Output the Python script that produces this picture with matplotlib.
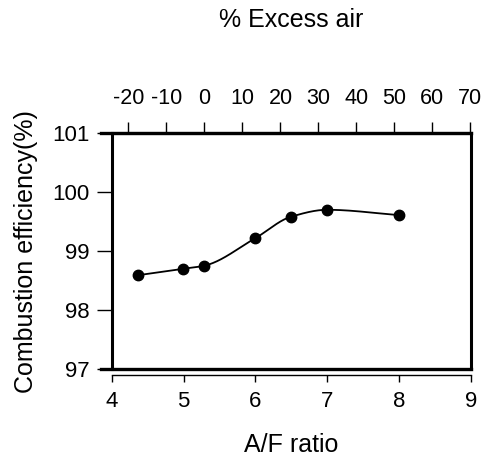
import numpy as np
import matplotlib
matplotlib.use("Agg")
import matplotlib.pyplot as plt

plt.rcParams['font.family'] = ['Liberation Sans', 'DejaVu Sans']
plt.rcParams['axes.unicode_minus'] = False

af_ratio = [4.36, 4.99, 5.28, 6.0, 6.49, 7.0, 8.0]
efficiency = [98.59, 98.70, 98.75, 99.22, 99.58, 99.70, 99.61]
x_ticks = [4, 5, 6, 7, 8, 9]
y_ticks = [97, 98, 99, 100, 101]
excess_ticks = [-20, -10, 0, 10, 20, 30, 40, 50, 60, 70]
AF_STOICH = 5.29


def pchip(x, y, n=400):
    x = np.asarray(x, float); y = np.asarray(y, float)
    h = np.diff(x); delta = np.diff(y) / h
    m = np.zeros_like(y)
    for k in range(1, len(x) - 1):
        if delta[k - 1] * delta[k] > 0:
            w1 = 2 * h[k] + h[k - 1]; w2 = h[k] + 2 * h[k - 1]
            m[k] = (w1 + w2) / (w1 / delta[k - 1] + w2 / delta[k])
    m[0] = delta[0]; m[-1] = delta[-1]
    xs = np.linspace(x[0], x[-1], n)
    idx = np.clip(np.searchsorted(x, xs) - 1, 0, len(x) - 2)
    t = (xs - x[idx]) / h[idx]
    h00 = 2 * t**3 - 3 * t**2 + 1; h10 = t**3 - 2 * t**2 + t
    h01 = -2 * t**3 + 3 * t**2; h11 = t**3 - t**2
    ys = h00 * y[idx] + h10 * h[idx] * m[idx] + h01 * y[idx + 1] + h11 * h[idx] * m[idx + 1]
    return xs, ys


fig = plt.figure(figsize=(4.82, 4.59), dpi=100)
ax = fig.add_axes([0.232, 0.196, 0.745, 0.514])

xs, ys = pchip(af_ratio, efficiency)
ax.plot(xs, ys, color='black', lw=1.3)
ax.plot(af_ratio, efficiency, 'o', color='black', ms=7.5)

ax.set_xlim(4, 9)
ax.set_ylim(97, 101)
ax.set_xticks(x_ticks)
ax.set_yticks(y_ticks)

for s in ['left', 'right', 'top']:
    ax.spines[s].set_linewidth(2.2)
ax.spines['bottom'].set_linewidth(1.0)
ax.spines['bottom'].set_position(('outward', 4))
ax.axhline(97, xmin=-0.03, xmax=1.0, color='black', lw=2.4, clip_on=False)
ax.axhline(101, xmin=-0.03, xmax=1.0, color='black', lw=2.4, clip_on=False)

ax.tick_params(axis='x', direction='out', length=5, width=1, labelsize=16, pad=7)
ax.tick_params(axis='y', direction='out', length=11, width=1, labelsize=16, pad=5)

sec = ax.secondary_xaxis('top', functions=(lambda x: (x / AF_STOICH - 1) * 100,
                                          lambda e: AF_STOICH * (1 + e / 100)))
sec.set_xticks(excess_ticks, labels=[str(v) for v in excess_ticks], fontsize=15.5)
sec.spines['top'].set_linewidth(0)
sec.tick_params(direction='out', length=8, width=1, pad=9)

ax.set_xlabel('A/F ratio', fontsize=18, labelpad=15)
ax.set_ylabel('Combustion efficiency(%)', fontsize=18, labelpad=10)
sec.set_xlabel('% Excess air', fontsize=18, labelpad=44)

fig.savefig('out.png', dpi=100)
